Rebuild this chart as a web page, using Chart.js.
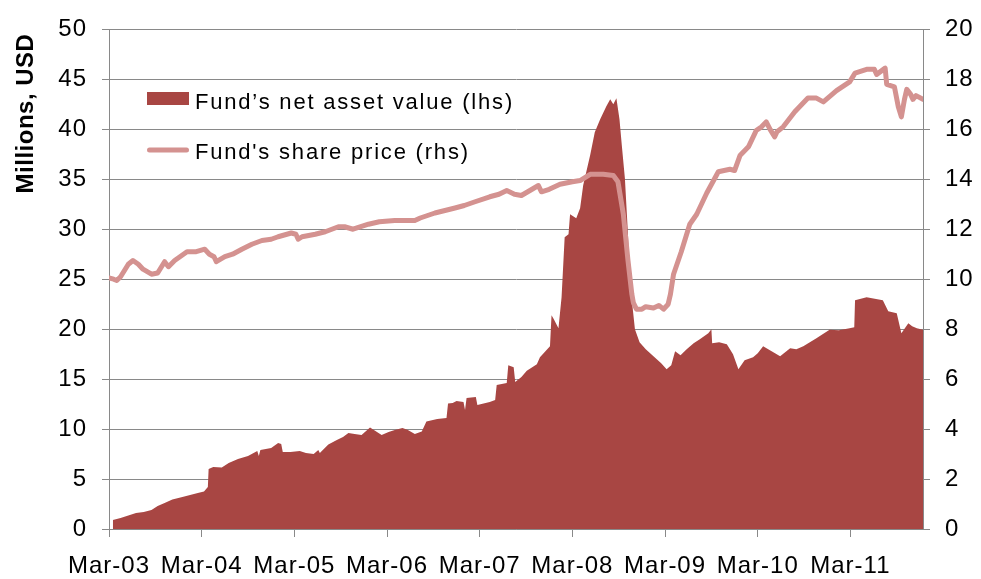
<!DOCTYPE html>
<html>
<head>
<meta charset="utf-8">
<script src="https://cdn.jsdelivr.net/npm/chart.js@4/dist/chart.umd.min.js"></script>
<style>
  html, body { margin: 0; padding: 0; background: #ffffff; }
  #wrap { width: 981px; height: 579px; }
</style>
</head>
<body>
<div id="wrap"><canvas id="c" width="981" height="579"></canvas></div>
<script>
// x values are months elapsed since March 2003
const tickMonths = [0, 12, 24, 36, 48, 60, 72, 84, 96];
const tickLabels = ["Mar-03", "Mar-04", "Mar-05", "Mar-06", "Mar-07", "Mar-08", "Mar-09", "Mar-10", "Mar-11"];

const navMonths = [0.5, 1.5, 2.5, 3.5, 4.5, 5.5, 6.3, 7.2, 8.2, 9.5, 10.5, 11.5, 12.3, 12.8, 12.9, 13.5, 14.6, 15.5, 16.7, 18, 19.2, 19.4, 19.6, 21, 21.9, 22.3, 22.5, 23.5, 24.7, 25.5, 26.5, 27.1, 27.3, 28.4, 29.5, 30.3, 31, 31.8, 32.7, 33.8, 34.5, 35.3, 36.2, 37, 38.0, 38.7, 39.6, 40.5, 41.1, 42.5, 43.7, 43.9, 44.5, 45, 45.9, 46.1, 46.3, 47.5, 47.7, 49.3, 50.0, 50.2, 51.5, 51.7, 52.4, 52.6, 53.4, 54.1, 55.4, 55.8, 57.1, 57.3, 57.6, 58.2, 58.6, 59.0, 59.5, 59.7, 60.5, 61.0, 61.4, 62.3, 62.9, 63.6, 64.4, 64.9, 65.3, 65.7, 66.1, 66.4, 66.8, 67.2, 67.4, 67.7, 68.1, 68.7, 69.5, 70.5, 71.5, 72.2, 72.8, 73.3, 74.0, 74.8, 75.7, 76.5, 77.6, 78.0, 78.1, 79.0, 80.0, 80.8, 81.5, 82.3, 83.4, 84.0, 84.7, 85.8, 86.9, 88.2, 89.0, 89.9, 91.6, 93.3, 94.5, 95.9, 96.5, 96.6, 98.1, 100.2, 100.9, 102.0, 102.6, 103.5, 104.0, 104.6, 105.4];
const navValues = [0.9, 1.1, 1.35, 1.6, 1.7, 1.9, 2.3, 2.6, 2.95, 3.2, 3.4, 3.6, 3.75, 4.2, 6.0, 6.2, 6.15, 6.6, 7.0, 7.3, 7.8, 7.3, 7.9, 8.1, 8.6, 8.5, 7.7, 7.7, 7.8, 7.6, 7.5, 7.9, 7.6, 8.45, 8.9, 9.2, 9.6, 9.5, 9.4, 10.15, 9.8, 9.4, 9.7, 9.9, 10.1, 9.9, 9.5, 9.75, 10.75, 11.0, 11.1, 12.55, 12.6, 12.8, 12.7, 11.9, 13.1, 13.2, 12.4, 12.7, 12.9, 14.4, 14.6, 16.4, 16.2, 14.7, 15.2, 15.85, 16.5, 17.2, 18.3, 21.4, 21.0, 20.1, 23.2, 29.2, 29.5, 31.5, 31.1, 32.1, 34.4, 37.4, 39.7, 41.0, 42.3, 43.0, 42.5, 43.1, 41.0, 38.4, 35.1, 29.5, 25.9, 22.9, 20.0, 18.7, 18.0, 17.3, 16.6, 16.0, 16.4, 17.8, 17.4, 18.0, 18.6, 19.0, 19.6, 20.0, 18.6, 18.7, 18.5, 17.5, 16.0, 16.9, 17.2, 17.6, 18.3, 17.8, 17.3, 18.1, 18.0, 18.3, 19.1, 19.95, 19.9, 20.1, 20.2, 22.9, 23.2, 22.9, 21.8, 21.6, 19.6, 20.6, 20.3, 20.1, 19.95];

const priceMonths = [0, 0.6, 1.0, 1.5, 2.5, 3.1, 3.8, 4.4, 5.5, 6.3, 7.2, 7.7, 8.5, 10.1, 11.3, 12.4, 13.0, 13.6, 13.9, 15.0, 16.0, 17.2, 18.5, 19.8, 21.0, 21.9, 23.6, 24.2, 24.5, 25.0, 26.7, 28.0, 29.7, 30.5, 31.6, 33.6, 35.0, 37.0, 39.6, 40.3, 42.2, 44.8, 46.0, 47.4, 49.3, 50.5, 51.5, 52.5, 53.4, 54.5, 55.6, 56.0, 57.0, 58.4, 60.0, 61.0, 62.3, 64.0, 65.3, 65.9, 66.6, 67.2, 67.7, 67.9, 68.3, 69.0, 69.5, 70.5, 71.2, 71.8, 72.4, 72.7, 73.1, 74.1, 75.2, 76.1, 77.4, 78.9, 80.4, 81.0, 81.7, 82.8, 83.8, 84.5, 85.1, 85.6, 86.2, 86.5, 87.3, 88.8, 90.5, 91.6, 92.5, 94.2, 95.9, 96.6, 98.1, 99.1, 99.4, 100.5, 100.7, 101.7, 102.2, 102.6, 103.0, 103.3, 103.8, 104.1, 104.5, 105.4];
const priceValues = [10.05, 10.0, 9.95, 10.1, 10.6, 10.75, 10.6, 10.4, 10.2, 10.25, 10.7, 10.5, 10.75, 11.1, 11.1, 11.2, 11.0, 10.9, 10.7, 10.9, 11.0, 11.2, 11.4, 11.55, 11.6, 11.7, 11.85, 11.8, 11.6, 11.7, 11.8, 11.9, 12.1, 12.1, 12.0, 12.2, 12.3, 12.35, 12.35, 12.45, 12.65, 12.85, 12.95, 13.1, 13.3, 13.4, 13.55, 13.4, 13.35, 13.55, 13.75, 13.5, 13.6, 13.8, 13.9, 13.95, 14.2, 14.2, 14.15, 13.9, 12.6, 10.75, 9.4, 9.05, 8.8, 8.8, 8.9, 8.85, 8.95, 8.8, 9.0, 9.4, 10.2, 11.1, 12.2, 12.6, 13.45, 14.3, 14.4, 14.35, 14.95, 15.3, 15.95, 16.1, 16.3, 16.0, 15.7, 15.9, 16.1, 16.7, 17.25, 17.25, 17.1, 17.55, 17.9, 18.25, 18.4, 18.4, 18.2, 18.45, 17.8, 17.7, 16.9, 16.5, 17.2, 17.6, 17.4, 17.2, 17.35, 17.2];

const navLabel = "Fund\u2019s net asset value (lhs)";
const priceLabel = "Fund's share price (rhs)";
const axisTitle = "Millions, USD";

const FONT = "'Liberation Sans', Arial, sans-serif";
const NAV_COLOR = '#A84643';
const PRICE_COLOR = '#D49290';
const GRID_COLOR = '#898989';

const navData = navMonths.map((m, i) => ({ x: m, y: navValues[i] }));
const priceData = priceMonths.map((m, i) => ({ x: m, y: priceValues[i] }));

const spacingPlugin = {
  id: 'spacing',
  beforeDraw(chart) {
    try { chart.ctx.letterSpacing = '1px'; } catch (e) {}
  }
};

const overlayPlugin = {
  id: 'overlay',
  afterDraw(chart) {
    const ctx = chart.ctx;
    ctx.save();
    // legend
    ctx.fillStyle = NAV_COLOR;
    ctx.fillRect(147, 92, 42, 13);
    ctx.strokeStyle = PRICE_COLOR;
    ctx.lineWidth = 5;
    ctx.lineCap = 'round';
    ctx.beginPath();
    ctx.moveTo(149.5, 150);
    ctx.lineTo(186.5, 150);
    ctx.stroke();
    ctx.fillStyle = '#000';
    ctx.font = '22px ' + FONT;
    ctx.textAlign = 'left';
    ctx.textBaseline = 'alphabetic';
    try { ctx.letterSpacing = '1.8px'; } catch (e) {}
    ctx.fillText(navLabel, 195, 108.5);
    ctx.fillText(priceLabel, 195, 158.5);
    try { ctx.letterSpacing = '0.5px'; } catch (e) {}
    // axis title
    ctx.translate(26, 113.5);
    ctx.rotate(-Math.PI / 2);
    ctx.font = 'bold 24px ' + FONT;
    ctx.textAlign = 'center';
    ctx.textBaseline = 'middle';
    ctx.fillText(axisTitle, 0, 0);
    ctx.restore();
    try { ctx.letterSpacing = '0px'; } catch (e) {}
  }
};

new Chart(document.getElementById('c'), {
  type: 'line',
  data: {
    datasets: [
      {
        label: priceLabel,
        data: priceData,
        yAxisID: 'y2',
        borderColor: PRICE_COLOR,
        borderWidth: 5,
        borderJoinStyle: 'round',
        borderCapStyle: 'round',
        pointRadius: 0,
        fill: false,
        tension: 0,
        order: 0
      },
      {
        label: navLabel,
        data: navData,
        yAxisID: 'y',
        borderColor: NAV_COLOR,
        backgroundColor: NAV_COLOR,
        borderWidth: 0,
        pointRadius: 0,
        fill: 'origin',
        tension: 0,
        order: 1
      }
    ]
  },
  options: {
    responsive: false,
    animation: false,
    devicePixelRatio: 1,
    layout: { padding: { top: 22, left: 0, right: 0, bottom: 0 } },
    plugins: {
      legend: { display: false },
      tooltip: { enabled: false }
    },
    scales: {
      x: {
        type: 'linear',
        position: 'bottom',
        min: 0,
        max: 105.4,
        afterBuildTicks: (s) => { s.ticks = tickMonths.map(v => ({ value: v })); },
        afterFit: (s) => { s.height = 50; },
        ticks: {
          autoSkip: false,
          maxRotation: 0,
          padding: 15,
          color: '#000',
          font: { family: FONT, size: 24 },
          callback: (v) => { const i = tickMonths.indexOf(v); return i >= 0 ? tickLabels[i] : ''; }
        },
        grid: { drawOnChartArea: false, drawTicks: true, tickLength: 8, color: GRID_COLOR, lineWidth: 1 },
        border: { color: GRID_COLOR, width: 1 }
      },
      y: {
        position: 'left',
        min: 0,
        max: 50,
        afterFit: (s) => { s.width = 109; },
        ticks: { stepSize: 5, padding: 15, color: '#000', font: { family: FONT, size: 24 } },
        grid: { color: GRID_COLOR, lineWidth: 1, tickLength: 7 },
        border: { color: GRID_COLOR, width: 1 }
      },
      y2: {
        position: 'right',
        min: 0,
        max: 20,
        afterFit: (s) => { s.width = 58; },
        ticks: { stepSize: 2, padding: 15, color: '#000', font: { family: FONT, size: 24 } },
        grid: { drawOnChartArea: false, color: GRID_COLOR, lineWidth: 1, tickLength: 7 },
        border: { color: GRID_COLOR, width: 1 }
      }
    }
  },
  plugins: [spacingPlugin, overlayPlugin]
});
</script>
</body>
</html>
